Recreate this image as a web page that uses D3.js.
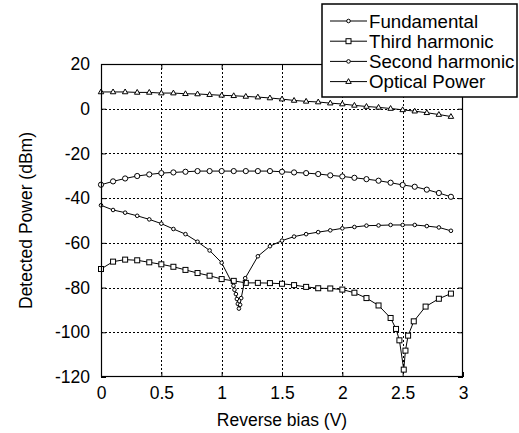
<!DOCTYPE html>
<html><head><meta charset="utf-8">
<script src="https://cdn.jsdelivr.net/npm/d3@7"></script>
<style>
html,body{margin:0;padding:0;background:#fff;}
svg{display:block;font-family:"Liberation Sans",Arial,sans-serif;}
</style></head>
<body><svg id="chart" width="519" height="433"></svg>
<script>
// ---- data ----
const xTicks = [0, 0.5, 1, 1.5, 2, 2.5, 3];
const yTicks = [-120, -100, -80, -60, -40, -20, 0, 20];
const xTickLabels = ["0", "0.5", "1", "1.5", "2", "2.5", "3"];
const yTickLabels = ["-120", "-100", "-80", "-60", "-40", "-20", "0", "20"];

const biasStd = [0,0.1,0.2,0.3,0.4,0.5,0.6,0.7,0.8,0.9,1.0,1.1,1.2,1.3,1.4,1.5,1.6,1.7,1.8,1.9,2.0,2.1,2.2,2.3,2.4,2.5,2.6,2.7,2.8,2.9];
const fundamental = [-34,-32.5,-31.2,-30.1,-29.4,-28.8,-28.5,-28.2,-27.9,-27.9,-27.9,-27.9,-27.9,-27.9,-27.9,-28.2,-28.5,-28.8,-29.2,-29.8,-30.3,-30.9,-31.5,-32.2,-33.1,-34.1,-34.9,-36.2,-37.7,-39.4];
const optical = [7.5,7.5,7.5,7.3,7.3,7.0,7.0,6.7,6.6,6.3,6.0,5.8,5.5,5.2,4.8,4.3,3.7,3.3,3.0,2.5,2.1,1.5,1.0,0.6,0.1,-0.5,-1.1,-1.8,-2.6,-3.5];

const biasThird = [0,0.1,0.2,0.3,0.4,0.5,0.6,0.7,0.8,0.9,1.0,1.1,1.2,1.3,1.4,1.5,1.6,1.7,1.8,1.9,2.0,2.1,2.2,2.3,2.4,2.445,2.473,2.509,2.523,2.545,2.592,2.69,2.8,2.9];
const third = [-71.7,-68.4,-67.5,-67.8,-68.7,-69.6,-70.7,-72.1,-73.5,-74.7,-76.2,-77.0,-77.9,-77.9,-78.0,-78.3,-78.9,-79.7,-80.3,-80.4,-80.9,-82.3,-84.7,-88.0,-93.6,-98.5,-103.6,-116.7,-108.2,-101.5,-95.1,-88.5,-85.0,-82.7];

const biasSecond = [0,0.1,0.2,0.3,0.4,0.5,0.6,0.7,0.8,0.9,1.0,1.098,1.106,1.118,1.126,1.134,1.143,1.153,1.162,1.195,1.3,1.4,1.5,1.6,1.7,1.8,1.9,2.0,2.1,2.2,2.3,2.4,2.5,2.6,2.7,2.8,2.9];
const second = [-43.2,-45.3,-46.5,-47.9,-49.5,-51.4,-53.8,-56.1,-59.5,-63.4,-68.9,-79.2,-81.0,-82.9,-85.1,-87.3,-89.4,-87.7,-84.7,-75.8,-66.0,-61.5,-59.0,-57.2,-56.1,-55.2,-54.4,-53.5,-52.9,-52.3,-52.2,-52.0,-52.0,-52.0,-52.5,-53.1,-54.6];

const legendLabels = ["Fundamental", "Third harmonic", "Second harmonic", "Optical Power"];

// ---- chart ----
const svg = d3.select("#chart");
const L = 101, R = 463, T = 64, B = 377;
const x = d3.scaleLinear().domain([0, 3]).range([L, R]);
const y = d3.scaleLinear().domain([-120, 20]).range([B, T]);
const FONT = 17.5;

// grid
const grid = svg.append("g").attr("stroke", "#000").attr("stroke-width", 1).attr("stroke-dasharray", "2,2");
grid.selectAll("line.vx").data(xTicks.slice(1, -1)).join("line")
  .attr("x1", d => Math.round(x(d)) + 0.5).attr("x2", d => Math.round(x(d)) + 0.5)
  .attr("y1", T).attr("y2", B);
grid.selectAll("line.hy").data(yTicks.slice(1, -1)).join("line")
  .attr("y1", d => Math.round(y(d)) + 0.5).attr("y2", d => Math.round(y(d)) + 0.5)
  .attr("x1", L).attr("x2", R);

// series
const series = [
  {xs: biasStd, ys: fundamental, marker: "circle"},
  {xs: biasThird, ys: third, marker: "square"},
  {xs: biasSecond, ys: second, marker: "small"},
  {xs: biasStd, ys: optical, marker: "triangle"}
];
const line = d3.line().x(d => x(d[0])).y(d => y(d[1]));

function drawMarker(g, type, cx, cy) {
  if (type === "circle") {
    g.append("circle").attr("cx", cx).attr("cy", cy).attr("r", 2.6)
      .attr("fill", "#fff").attr("stroke", "#000").attr("stroke-width", 1);
  } else if (type === "small") {
    g.append("circle").attr("cx", cx).attr("cy", cy).attr("r", 1.8)
      .attr("fill", "#fff").attr("stroke", "#000").attr("stroke-width", 1);
  } else if (type === "square") {
    g.append("rect").attr("x", cx - 2.5).attr("y", cy - 2.5).attr("width", 5).attr("height", 5)
      .attr("fill", "#fff").attr("stroke", "#000").attr("stroke-width", 1);
  } else if (type === "triangle") {
    const s = 5.5, h = s * 0.866;
    g.append("path").attr("d", `M${cx},${cy - h * 0.62}L${cx + s / 2},${cy + h * 0.38}L${cx - s / 2},${cy + h * 0.38}Z`)
      .attr("fill", "#fff").attr("stroke", "#000").attr("stroke-width", 1);
  }
}

series.forEach(s => {
  const pts = s.xs.map((v, i) => [v, s.ys[i]]);
  svg.append("path").datum(pts).attr("d", line)
    .attr("fill", "none").attr("stroke", "#000").attr("stroke-width", 1);
  const g = svg.append("g");
  pts.forEach(p => drawMarker(g, s.marker, x(p[0]), y(p[1])));
});

// axes
const xAxis = d3.axisBottom(x).tickValues(xTicks).tickSize(-5).tickPadding(10)
  .tickFormat((d, i) => xTickLabels[i]);
const yAxis = d3.axisLeft(y).tickValues(yTicks).tickSize(-5).tickPadding(11)
  .tickFormat((d, i) => yTickLabels[i]);
const xTop = d3.axisTop(x).tickValues(xTicks).tickSize(-5).tickFormat("");
const yRight = d3.axisRight(y).tickValues(yTicks).tickSize(-5).tickFormat("");

function styleAxis(g) {
  g.select(".domain").remove();
  g.selectAll(".tick line").attr("stroke", "#000").attr("stroke-width", 1);
  g.selectAll("text").attr("font-size", FONT).attr("fill", "#000")
    .attr("font-family", "Liberation Sans, Arial, sans-serif");
}
svg.append("g").attr("transform", `translate(0,${B})`).call(xAxis).call(styleAxis);
svg.append("g").attr("transform", `translate(${L},0)`).call(yAxis).call(styleAxis);
svg.append("g").attr("transform", `translate(0,${T})`).call(xTop).call(styleAxis);
svg.append("g").attr("transform", `translate(${R},0)`).call(yRight).call(styleAxis);

// frame
svg.append("rect").attr("x", L + 0.5).attr("y", T + 0.5).attr("width", R - L - 1).attr("height", B - T - 1)
  .attr("fill", "none").attr("stroke", "#000").attr("stroke-width", 1.2);

// axis titles
svg.append("text").attr("x", (L + R) / 2).attr("y", 426).attr("text-anchor", "middle")
  .attr("font-size", FONT).text("Reverse bias (V)");
svg.append("text").attr("transform", `translate(32,${(T + B) / 2}) rotate(-90)`).attr("text-anchor", "middle")
  .attr("font-size", FONT).text("Detected Power (dBm)");

// legend
const lg = svg.append("g");
lg.append("rect").attr("x", 322).attr("y", 4).attr("width", 195).attr("height", 93)
  .attr("fill", "#fff").attr("stroke", "#000").attr("stroke-width", 1.5);
const markers = ["circle", "square", "small", "triangle"];
legendLabels.forEach((lab, i) => {
  const cy = 21 + i * 20.2;
  lg.append("line").attr("x1", 330).attr("x2", 367).attr("y1", cy).attr("y2", cy)
    .attr("stroke", "#000").attr("stroke-width", 1);
  drawMarker(lg, markers[i] === "circle" ? "small" : markers[i], 348.5, cy);
  lg.append("text").attr("x", 369).attr("y", cy + 6.7).attr("font-size", 18.7).text(lab);
});
</script></body></html>
